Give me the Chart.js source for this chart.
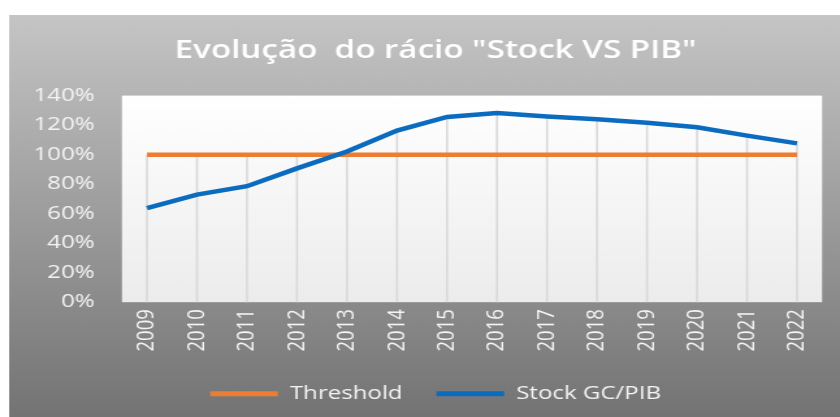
<!DOCTYPE html>
<html>
<head>
<meta charset="utf-8">
<script src="https://cdn.jsdelivr.net/npm/chart.js@4/dist/chart.umd.min.js"></script>
<style>
  html, body { margin: 0; padding: 0; background: #ffffff; }
</style>
</head>
<body>
<!-- the original picture is stretched sideways, so draw narrow and stretch it with an inline style -->
<canvas id="ratioChart" width="646" height="417" style="width:840px;height:417px;display:block;"></canvas>
<script>
// data
var years = ['2009', '2010', '2011', '2012', '2013', '2014', '2015',
             '2016', '2017', '2018', '2019', '2020', '2021', '2022'];
var threshold = [100, 100, 100, 100, 100, 100, 100, 100, 100, 100, 100, 100, 100, 100];
var stockGcPib = [63.7, 72.9, 78.6, 90.7, 102.1, 116.3, 125.5, 128.2, 125.9, 123.9, 121.6, 118.6, 112.9, 107.6];
var yTicks = [0, 20, 40, 60, 80, 100, 120, 140];

var font = '"Open Sans", "DejaVu Sans", sans-serif';

// grey frame behind everything, white panel behind the plot
var backgroundPlugin = {
    id: 'backgrounds',
    beforeDraw: function (chart) {
        var ctx = chart.ctx;
        var area = chart.chartArea;
        ctx.save();
        var g = ctx.createLinearGradient(0, 15, 0, chart.height);
        g.addColorStop(0, '#c5c5c5');
        g.addColorStop(1, '#737373');
        ctx.fillStyle = g;
        ctx.fillRect(7, 15, chart.width - 7, chart.height - 15);

        var p = ctx.createLinearGradient(0, area.top, 0, area.bottom);
        p.addColorStop(0, '#ffffff');
        p.addColorStop(1, '#ececec');
        ctx.fillStyle = p;
        ctx.fillRect(area.left, area.top, area.right - area.left, area.bottom - area.top);
        ctx.restore();
    }
};

// drop lines from the highest line down to the axis
var dropLinePlugin = {
    id: 'dropLines',
    beforeDatasetsDraw: function (chart) {
        var ctx = chart.ctx;
        var x = chart.scales.x;
        var y = chart.scales.y;
        ctx.save();
        ctx.strokeStyle = '#d9d9d9';
        ctx.lineWidth = 1.6;
        years.forEach(function (label, i) {
            var top = Math.max(threshold[i], stockGcPib[i]);
            var px = x.getPixelForValue(i);
            ctx.beginPath();
            ctx.moveTo(px, y.getPixelForValue(top));
            ctx.lineTo(px, y.getPixelForValue(0));
            ctx.stroke();
        });
        ctx.restore();
    }
};

var ctx = document.getElementById('ratioChart').getContext('2d');

new Chart(ctx, {
    type: 'line',
    data: {
        labels: years,
        datasets: [{
            label: 'Threshold',
            data: threshold,
            borderColor: '#ed7d31',
            backgroundColor: '#ed7d31',
            borderWidth: 4.5,
            pointRadius: 0,
            tension: 0,
            order: 1
        }, {
            label: 'Stock GC/PIB',
            data: stockGcPib,
            borderColor: '#0b6cbf',
            backgroundColor: '#0b6cbf',
            borderWidth: 4.5,
            pointRadius: 0,
            tension: 0,
            order: 0
        }]
    },
    options: {
        responsive: false,
        animation: false,
        layout: { padding: { left: 24, right: 0, top: 0, bottom: 4 } },
        plugins: {
            tooltip: { enabled: false },
            title: {
                display: true,
                text: 'Evolução  do rácio "Stock VS PIB"',
                color: '#ffffff',
                font: { family: font, size: 25.5, weight: '600' },
                padding: { top: 35, bottom: 30 }
            },
            legend: {
                position: 'bottom',
                labels: {
                    color: '#f4f4f4',
                    font: { family: font, size: 18.5 },
                    boxWidth: 52,
                    boxHeight: 5,
                    padding: 26,
                    sort: function (a, b) { return a.datasetIndex - b.datasetIndex; },
                    generateLabels: function (chart) {
                        var items = Chart.defaults.plugins.legend.labels.generateLabels(chart);
                        items.forEach(function (it) {
                            it.lineWidth = 0;
                            it.fillStyle = it.strokeStyle;
                        });
                        return items;
                    }
                }
            }
        },
        scales: {
            x: {
                offset: true,
                grid: { display: false, drawTicks: false },
                border: { display: false },
                ticks: {
                    color: '#f4f4f4',
                    font: { family: font, size: 18.5 },
                    minRotation: 90,
                    maxRotation: 90,
                    autoSkip: false,
                    padding: 7
                }
            },
            y: {
                min: 0,
                max: 140,
                grid: { display: false, drawTicks: false },
                border: { display: false },
                afterBuildTicks: function (scale) {
                    scale.ticks = yTicks.map(function (v) { return { value: v }; });
                },
                afterFit: function (scale) { scale.width = 69.8; },
                ticks: {
                    color: '#f4f4f4',
                    font: { family: font, size: 18.5 },
                    padding: 21,
                    callback: function (v) { return v + '%'; }
                }
            },
            spacer: {
                type: 'linear',
                position: 'right',
                display: true,
                grid: { display: false, drawTicks: false },
                border: { display: false },
                ticks: { display: false },
                afterFit: function (scale) { scale.width = 13.8; }
            }
        }
    },
    plugins: [backgroundPlugin, dropLinePlugin]
});
</script>
</body>
</html>
